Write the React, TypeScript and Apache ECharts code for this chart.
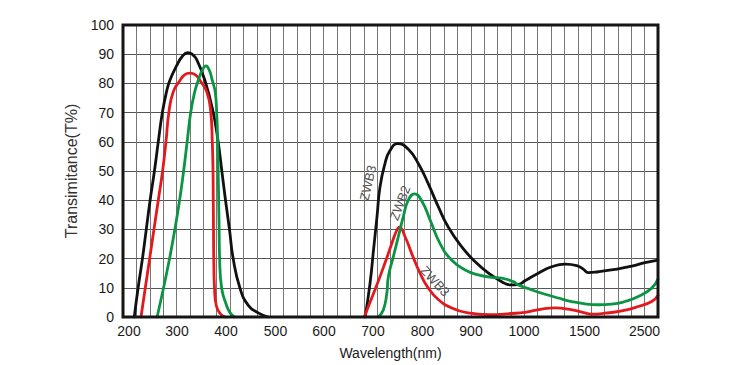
import React, { useEffect, useRef } from "react";
import * as echarts from "echarts";

// Non-linear wavelength axis: tick labels (nm) and their scale anchors
const tickNm = [200, 300, 400, 500, 600, 700, 800, 900, 1000, 1500, 2500];
const tickAnchor = [6, 54, 103, 152.5, 201, 250, 299.5, 348, 401, 461.5, 521.5];
const AXIS_MAX = 535;
const yTicks = [0, 10, 20, 30, 40, 50, 60, 70, 80, 90, 100];

// Black curve
const blackUvNm = [211, 219, 228, 236, 244, 253, 261, 269.5, 278, 285, 299, 311, 322, 331, 340, 357, 374, 384, 391.5, 399, 407, 414.5, 428, 445, 465, 485];
const blackUvT = [0, 10, 20, 30, 40, 50, 60, 70, 77, 81, 86, 89.3, 90.5, 90, 88.2, 81, 70, 60, 50, 40, 30, 20, 10, 4, 1.4, 0];
const blackNirNm = [684, 694, 701, 708, 714, 724, 734, 750, 771, 792, 812, 833, 853, 881, 908, 933, 958, 974, 990, 1008, 1118, 1229, 1339, 1436, 1490, 1563, 1730, 2008, 2287, 2508, 2725];
const blackNirT = [0, 11.6, 22.9, 34.2, 44.4, 52.4, 56.9, 59.4, 57.5, 52.4, 45.6, 37.6, 30.8, 24, 18.9, 15, 12.1, 11, 11.2, 12.4, 15, 17.2, 18.1, 17.6, 16.4, 15.2, 15.5, 16.3, 17.4, 18.6, 19.5];

// Red curve
const redUvNm = [225, 234, 243, 252, 261, 270, 277, 283, 292, 306, 316, 326, 337, 347, 361, 369, 372, 373.5, 374, 374.5, 375, 376.5, 380, 388, 398];
const redUvT = [0, 10, 20, 30, 40, 50, 60, 70, 77, 81, 83, 83.5, 83, 81, 77, 70, 60, 50, 40, 30, 20, 10, 4, 1.2, 0];
const redNirNm = [682, 704, 724, 738, 748, 753, 765, 778, 795, 812, 833, 860, 894, 933, 977, 1008, 1146, 1256, 1366, 1477, 1620, 1842, 2120, 2397, 2620, 2725];
const redNirT = [0, 9.3, 18.4, 25.2, 29.7, 30.8, 27.4, 21.8, 15, 9.9, 5.9, 3.1, 1.4, 0.8, 1.2, 1.6, 2.7, 3.1, 2.7, 1.7, 1.0, 1.3, 2.1, 3.6, 5.3, 7.4];

// Green curve
const greenUvNm = [258.6, 272, 284.5, 295.5, 305.3, 313.5, 320.7, 327.9, 336, 343.3, 351.5, 359, 366, 372, 378, 381, 383, 384, 385, 386, 387, 391, 401, 408, 417];
const greenUvT = [0, 10, 20, 30, 40, 50, 60, 70, 77, 81, 84.5, 86, 84.5, 81, 77, 70, 60, 50, 40, 30, 20, 10, 4, 1.5, 0];
const greenNirNm = [711, 721, 728, 731, 741, 751, 761, 771, 784, 798, 816, 836, 860, 888, 914, 939, 958, 980, 989, 1064, 1174, 1283, 1394, 1508, 1730, 1953, 2175, 2397, 2620, 2725];
const greenNirT = [0, 2.5, 8.2, 13.8, 20.6, 27.4, 34.2, 39.9, 42.2, 39.9, 33.1, 25.2, 19.5, 16.1, 14.4, 13.6, 13.3, 12.1, 11, 9.3, 7.8, 6.5, 5.3, 4.5, 4.2, 4.4, 5.3, 7, 9.9, 13];

const annotations = ["ZWB3", "ZWB2", "ZWB3"];

function nmToPos(nm: number): number {
  const n = tickNm.length;
  let i = 0;
  if (nm <= tickNm[0]) i = 0;
  else if (nm >= tickNm[n - 1]) i = n - 2;
  else {
    while (nm > tickNm[i + 1]) i++;
  }
  const t = (nm - tickNm[i]) / (tickNm[i + 1] - tickNm[i]);
  const p = tickAnchor[i] + t * (tickAnchor[i + 1] - tickAnchor[i]);
  return Math.max(0, Math.min(AXIS_MAX, p));
}

function pts(nm: number[], t: number[]) {
  return nm.map((w, i) => [nmToPos(w), t[i]]);
}

const FONT = "'Liberation Sans', Arial, Helvetica, sans-serif";

export default function App() {
  const ref = useRef<HTMLDivElement>(null);
  useEffect(() => {
    if (!ref.current) return;
    const chart = echarts.init(ref.current, undefined, { renderer: "svg" });
    const mk = (name: string, data: number[][], color: string) => ({
      name,
      type: "line",
      data,
      symbol: "none",
      smooth: 0.5,
      lineStyle: { color, width: 2.8, join: "round", cap: "round" },
      z: 3,
    });
    const BLACK = "#111111";
    const RED = "#e3191e";
    const GREEN = "#0b9444";
    chart.setOption({
      animation: false,
      backgroundColor: "#ffffff",
      textStyle: { fontFamily: FONT },
      grid: {
        left: 123,
        top: 25,
        right: 92,
        bottom: 46,
        show: true,
        borderColor: "#151515",
        borderWidth: 3,
        z: 4,
      },
      xAxis: {
        type: "value",
        min: 0,
        max: AXIS_MAX,
        interval: AXIS_MAX / 40,
        axisLine: { show: false },
        axisTick: { show: false },
        splitLine: { show: true, lineStyle: { color: "#767676", width: 1 } },
        axisLabel: {
          customValues: tickAnchor,
          formatter: (v: number) => {
            const idx = tickAnchor.findIndex((a) => Math.abs(a - v) < 0.01);
            return idx >= 0 ? String(tickNm[idx]) : "";
          },
          color: "#1a1a1a",
          fontSize: 14,
          margin: 7,
          fontFamily: FONT,
        },
        name: "Wavelength(nm)",
        nameLocation: "middle",
        nameGap: 29,
        nameTextStyle: { color: "#1a1a1a", fontSize: 14, fontFamily: FONT },
      },
      yAxis: {
        type: "value",
        min: 0,
        max: 100,
        interval: 10,
        axisLine: { show: false },
        axisTick: { show: false },
        splitLine: { show: true, lineStyle: { color: "#555555", width: 1 } },
        axisLabel: {
          color: "#1a1a1a",
          fontSize: 14,
          margin: 9,
          fontFamily: FONT,
          formatter: (v: number) => (yTicks.indexOf(v) >= 0 ? String(v) : ""),
        },
        name: "Transimitance(T%)",
        nameLocation: "middle",
        nameGap: 32,
        nameRotate: 90,
        nameTextStyle: { color: "#333", fontSize: 16, fontFamily: FONT },
      },
      series: [
        mk("ZWB3 UV", pts(blackUvNm, blackUvT), BLACK),
        mk("ZWB3 NIR", pts(blackNirNm, blackNirT), BLACK),
        mk("Red UV", pts(redUvNm, redUvT), RED),
        mk("Red NIR", pts(redNirNm, redNirT), RED),
        mk("ZWB2 UV", pts(greenUvNm, greenUvT), GREEN),
        mk("ZWB2 NIR", pts(greenNirNm, greenNirT), GREEN),
      ],
      graphic: [
        {
          type: "text",
          x: 368,
          y: 183,
          rotation: 1.34,
          z: 10,
          style: { text: annotations[0], fill: "#555", font: `13px ${FONT}`, align: "center", verticalAlign: "middle" },
        },
        {
          type: "text",
          x: 400,
          y: 203,
          rotation: 1.2,
          z: 10,
          style: { text: annotations[1], fill: "#555", font: `13px ${FONT}`, align: "center", verticalAlign: "middle" },
        },
        {
          type: "text",
          x: 435,
          y: 281,
          rotation: -0.82,
          z: 10,
          style: { text: annotations[2], fill: "#555", font: `13px ${FONT}`, align: "center", verticalAlign: "middle" },
        },
      ],
    });
    return () => chart.dispose();
  }, []);
  return (
    <div
      ref={ref}
      style={{ position: "fixed", left: 0, top: 0, width: 750, height: 365, background: "#fff" }}
    />
  );
}
